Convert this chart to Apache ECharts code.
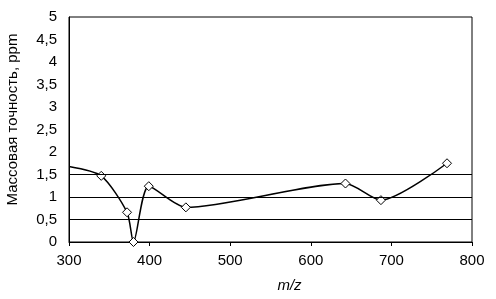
<!DOCTYPE html>
<html>
<head>
<meta charset="utf-8">
<script src="https://cdn.jsdelivr.net/npm/echarts@6/dist/echarts.min.js"></script>
<style>
  html, body { margin: 0; padding: 0; background: #fff; }
  #chart { width: 496px; height: 299px; }
</style>
</head>
<body>
<div id="chart"></div>
<script>
// Массовая точность по m/z
const mzValues = [300, 340, 372, 380, 399, 445, 643, 687, 769];
const ppmValues = [1.68, 1.47, 0.66, 0.0, 1.24, 0.77, 1.30, 0.93, 1.75];
const refLines = [0.5, 1, 1.5];
const yTickMax = 5;

const font = "'Liberation Sans', Arial, sans-serif";

const seriesData = mzValues.map((x, i) => {
  const pt = { value: [x, ppmValues[i]] };
  if (i === 0) pt.symbol = "none"; // start of the curve, no marker
  return pt;
});

const chart = echarts.init(document.getElementById("chart"));
chart.setOption({
  animation: false,
  grid: {
    left: 69, right: 24, top: 17, bottom: 57,
    outerBoundsMode: "none",
    containLabel: false,
    show: true, borderColor: "#000", borderWidth: 1
  },
  xAxis: {
    type: "value",
    min: 300, max: 800, interval: 100,
    name: "m/z",
    nameLocation: "middle",
    nameGap: 36,
    nameTextStyle: { fontFamily: font, fontSize: 15, fontStyle: "italic", color: "#000", padding: [0, 0, 0, 38] },
    axisLine: { lineStyle: { color: "#000" } },
    axisTick: { show: true, length: 4, lineStyle: { color: "#000" } },
    axisLabel: { fontFamily: font, fontSize: 15, color: "#000", margin: 11 },
    splitLine: { show: false }
  },
  yAxis: {
    type: "value",
    min: 0, max: yTickMax, interval: 0.5,
    name: "Массовая точность, ppm",
    nameLocation: "middle",
    nameGap: 49,
    nameTextStyle: { fontFamily: font, fontSize: 15, color: "#000", padding: [0, 0, 0, 20] },
    axisLine: { show: true, lineStyle: { color: "#000" } },
    axisTick: { show: false },
    axisLabel: {
      fontFamily: font, fontSize: 15, color: "#000", margin: 12,
      formatter: (v) => String(v).replace(".", ",")
    },
    splitLine: { show: false }
  },
  series: [{
    type: "line",
    data: seriesData,
    smooth: 0.25,
    symbol: "diamond",
    symbolSize: 9,
    lineStyle: { color: "#000", width: 1.5 },
    itemStyle: { color: "#fff", borderColor: "#000", borderWidth: 1 },
    markLine: {
      silent: true,
      symbol: "none",
      label: { show: false },
      lineStyle: { color: "#000", width: 1, type: "solid" },
      data: refLines.map((v) => ({ yAxis: v }))
    },
    z: 3
  }]
});
</script>
</body>
</html>
